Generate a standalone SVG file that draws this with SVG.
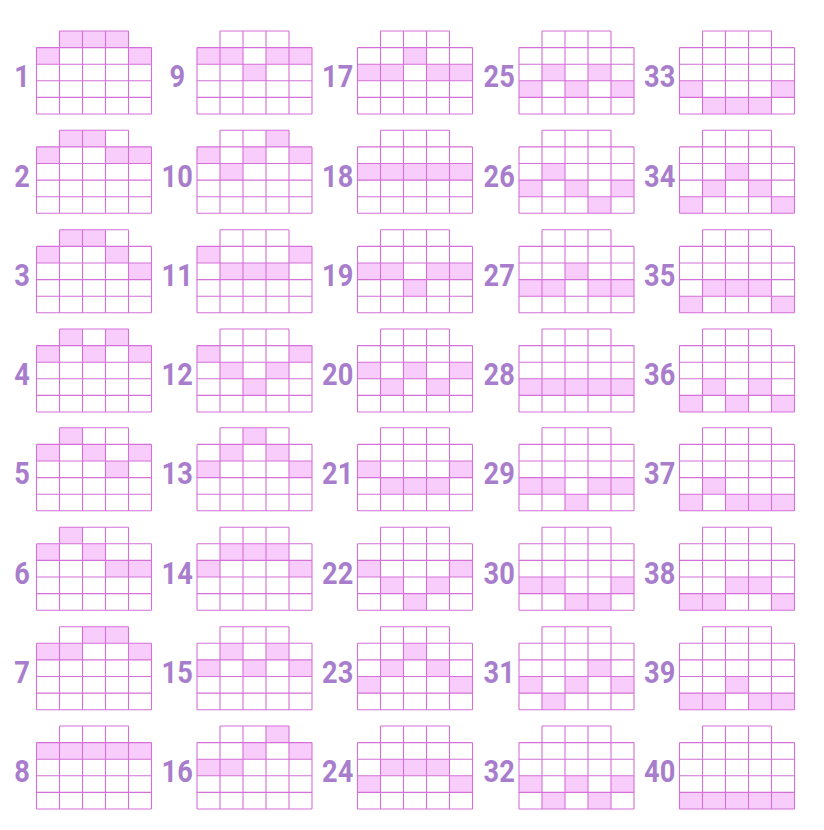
<svg xmlns="http://www.w3.org/2000/svg" xmlns:xlink="http://www.w3.org/1999/xlink" width="824" height="830" viewBox="0 0 824 830">
<style>
.f{fill:#f8cdfb}
.g{fill:none;stroke:#d470d8;stroke-width:1.1}
.n{font-family:Roboto,"Liberation Sans",sans-serif;font-weight:700;font-size:32px;fill:#a87dcc;text-anchor:middle}
</style>
<defs>
<path id="grid" class="g" d="M23,0H92M0,16.6H115M0,33.2H115M0,49.8H115M0,66.4H115M0,83H115M0,16.6V83M23,0V83M46,0V83M69,0V83M92,0V83M115,16.6V83"/>
<rect id="c" width="23" height="16.6"/>
</defs>
<rect width="824" height="830" fill="#ffffff"/>
<g id="connectors"></g>

<g id="p1" transform="translate(36.5,31)"><g class="f"><use xlink:href="#c" x="23" y="0"/><use xlink:href="#c" x="46" y="0"/><use xlink:href="#c" x="69" y="0"/><use xlink:href="#c" x="0" y="16.6"/><use xlink:href="#c" x="92" y="16.6"/></g><use xlink:href="#grid"/><text class="n" transform="translate(-14.5,56.3) scale(0.85,1)">1</text></g>
<g id="p2" transform="translate(36.5,130.3)"><g class="f"><use xlink:href="#c" x="23" y="0"/><use xlink:href="#c" x="46" y="0"/><use xlink:href="#c" x="0" y="16.6"/><use xlink:href="#c" x="69" y="16.6"/><use xlink:href="#c" x="92" y="16.6"/></g><use xlink:href="#grid"/><text class="n" transform="translate(-14.5,56.3) scale(0.85,1)">2</text></g>
<g id="p3" transform="translate(36.5,229.8)"><g class="f"><use xlink:href="#c" x="23" y="0"/><use xlink:href="#c" x="46" y="0"/><use xlink:href="#c" x="0" y="16.6"/><use xlink:href="#c" x="69" y="16.6"/><use xlink:href="#c" x="92" y="33.2"/></g><use xlink:href="#grid"/><text class="n" transform="translate(-14.5,56.3) scale(0.85,1)">3</text></g>
<g id="p4" transform="translate(36.5,329)"><g class="f"><use xlink:href="#c" x="23" y="0"/><use xlink:href="#c" x="69" y="0"/><use xlink:href="#c" x="0" y="16.6"/><use xlink:href="#c" x="46" y="16.6"/><use xlink:href="#c" x="92" y="16.6"/></g><use xlink:href="#grid"/><text class="n" transform="translate(-14.5,56.3) scale(0.85,1)">4</text></g>
<g id="p5" transform="translate(36.5,427.8)"><g class="f"><use xlink:href="#c" x="23" y="0"/><use xlink:href="#c" x="0" y="16.6"/><use xlink:href="#c" x="46" y="16.6"/><use xlink:href="#c" x="92" y="16.6"/><use xlink:href="#c" x="69" y="33.2"/></g><use xlink:href="#grid"/><text class="n" transform="translate(-14.5,56.3) scale(0.85,1)">5</text></g>
<g id="p6" transform="translate(36.5,527.2)"><g class="f"><use xlink:href="#c" x="23" y="0"/><use xlink:href="#c" x="0" y="16.6"/><use xlink:href="#c" x="46" y="16.6"/><use xlink:href="#c" x="69" y="33.2"/><use xlink:href="#c" x="92" y="33.2"/></g><use xlink:href="#grid"/><text class="n" transform="translate(-14.5,56.3) scale(0.85,1)">6</text></g>
<g id="p7" transform="translate(36.5,626.7)"><g class="f"><use xlink:href="#c" x="46" y="0"/><use xlink:href="#c" x="69" y="0"/><use xlink:href="#c" x="0" y="16.6"/><use xlink:href="#c" x="23" y="16.6"/><use xlink:href="#c" x="92" y="16.6"/></g><use xlink:href="#grid"/><text class="n" transform="translate(-14.5,56.3) scale(0.85,1)">7</text></g>
<g id="p8" transform="translate(36.5,726)"><g class="f"><use xlink:href="#c" x="0" y="16.6"/><use xlink:href="#c" x="23" y="16.6"/><use xlink:href="#c" x="46" y="16.6"/><use xlink:href="#c" x="69" y="16.6"/><use xlink:href="#c" x="92" y="16.6"/></g><use xlink:href="#grid"/><text class="n" transform="translate(-14.5,56.3) scale(0.85,1)">8</text></g>

<g id="p9" transform="translate(197,31)"><g class="f"><use xlink:href="#c" x="0" y="16.6"/><use xlink:href="#c" x="23" y="16.6"/><use xlink:href="#c" x="69" y="16.6"/><use xlink:href="#c" x="92" y="16.6"/><use xlink:href="#c" x="46" y="33.2"/></g><use xlink:href="#grid"/><text class="n" transform="translate(-19.8,56.3) scale(0.85,1)">9</text></g>
<g id="p10" transform="translate(197,130.3)"><g class="f"><use xlink:href="#c" x="69" y="0"/><use xlink:href="#c" x="0" y="16.6"/><use xlink:href="#c" x="46" y="16.6"/><use xlink:href="#c" x="92" y="16.6"/><use xlink:href="#c" x="23" y="33.2"/></g><use xlink:href="#grid"/><text class="n" transform="translate(-19.8,56.3) scale(0.85,1)">10</text></g>
<g id="p11" transform="translate(197,229.8)"><g class="f"><use xlink:href="#c" x="0" y="16.6"/><use xlink:href="#c" x="92" y="16.6"/><use xlink:href="#c" x="23" y="33.2"/><use xlink:href="#c" x="46" y="33.2"/><use xlink:href="#c" x="69" y="33.2"/></g><use xlink:href="#grid"/><text class="n" transform="translate(-19.8,56.3) scale(0.85,1)">11</text></g>
<g id="p12" transform="translate(197,329)"><g class="f"><use xlink:href="#c" x="0" y="16.6"/><use xlink:href="#c" x="92" y="16.6"/><use xlink:href="#c" x="23" y="33.2"/><use xlink:href="#c" x="69" y="33.2"/><use xlink:href="#c" x="46" y="49.8"/></g><use xlink:href="#grid"/><text class="n" transform="translate(-19.8,56.3) scale(0.85,1)">12</text></g>
<g id="p13" transform="translate(197,427.8)"><g class="f"><use xlink:href="#c" x="46" y="0"/><use xlink:href="#c" x="23" y="16.6"/><use xlink:href="#c" x="69" y="16.6"/><use xlink:href="#c" x="0" y="33.2"/><use xlink:href="#c" x="92" y="33.2"/></g><use xlink:href="#grid"/><text class="n" transform="translate(-19.8,56.3) scale(0.85,1)">13</text></g>
<g id="p14" transform="translate(197,527.2)"><g class="f"><use xlink:href="#c" x="23" y="16.6"/><use xlink:href="#c" x="46" y="16.6"/><use xlink:href="#c" x="69" y="16.6"/><use xlink:href="#c" x="0" y="33.2"/><use xlink:href="#c" x="92" y="33.2"/></g><use xlink:href="#grid"/><text class="n" transform="translate(-19.8,56.3) scale(0.85,1)">14</text></g>
<g id="p15" transform="translate(197,626.7)"><g class="f"><use xlink:href="#c" x="23" y="16.6"/><use xlink:href="#c" x="69" y="16.6"/><use xlink:href="#c" x="0" y="33.2"/><use xlink:href="#c" x="46" y="33.2"/><use xlink:href="#c" x="92" y="33.2"/></g><use xlink:href="#grid"/><text class="n" transform="translate(-19.8,56.3) scale(0.85,1)">15</text></g>
<g id="p16" transform="translate(197,726)"><g class="f"><use xlink:href="#c" x="69" y="0"/><use xlink:href="#c" x="46" y="16.6"/><use xlink:href="#c" x="92" y="16.6"/><use xlink:href="#c" x="0" y="33.2"/><use xlink:href="#c" x="23" y="33.2"/></g><use xlink:href="#grid"/><text class="n" transform="translate(-19.8,56.3) scale(0.85,1)">16</text></g>

<g id="p17" transform="translate(357.5,31)"><g class="f"><use xlink:href="#c" x="46" y="16.6"/><use xlink:href="#c" x="0" y="33.2"/><use xlink:href="#c" x="23" y="33.2"/><use xlink:href="#c" x="69" y="33.2"/><use xlink:href="#c" x="92" y="33.2"/></g><use xlink:href="#grid"/><text class="n" transform="translate(-19.8,56.3) scale(0.85,1)">17</text></g>
<g id="p18" transform="translate(357.5,130.3)"><g class="f"><use xlink:href="#c" x="0" y="33.2"/><use xlink:href="#c" x="23" y="33.2"/><use xlink:href="#c" x="46" y="33.2"/><use xlink:href="#c" x="69" y="33.2"/><use xlink:href="#c" x="92" y="33.2"/></g><use xlink:href="#grid"/><text class="n" transform="translate(-19.8,56.3) scale(0.85,1)">18</text></g>
<g id="p19" transform="translate(357.5,229.8)"><g class="f"><use xlink:href="#c" x="0" y="33.2"/><use xlink:href="#c" x="23" y="33.2"/><use xlink:href="#c" x="69" y="33.2"/><use xlink:href="#c" x="92" y="33.2"/><use xlink:href="#c" x="46" y="49.8"/></g><use xlink:href="#grid"/><text class="n" transform="translate(-19.8,56.3) scale(0.85,1)">19</text></g>
<g id="p20" transform="translate(357.5,329)"><g class="f"><use xlink:href="#c" x="0" y="33.2"/><use xlink:href="#c" x="46" y="33.2"/><use xlink:href="#c" x="92" y="33.2"/><use xlink:href="#c" x="23" y="49.8"/><use xlink:href="#c" x="69" y="49.8"/></g><use xlink:href="#grid"/><text class="n" transform="translate(-19.8,56.3) scale(0.85,1)">20</text></g>
<g id="p21" transform="translate(357.5,427.8)"><g class="f"><use xlink:href="#c" x="0" y="33.2"/><use xlink:href="#c" x="92" y="33.2"/><use xlink:href="#c" x="23" y="49.8"/><use xlink:href="#c" x="46" y="49.8"/><use xlink:href="#c" x="69" y="49.8"/></g><use xlink:href="#grid"/><text class="n" transform="translate(-19.8,56.3) scale(0.85,1)">21</text></g>
<g id="p22" transform="translate(357.5,527.2)"><g class="f"><use xlink:href="#c" x="0" y="33.2"/><use xlink:href="#c" x="92" y="33.2"/><use xlink:href="#c" x="23" y="49.8"/><use xlink:href="#c" x="69" y="49.8"/><use xlink:href="#c" x="46" y="66.4"/></g><use xlink:href="#grid"/><text class="n" transform="translate(-19.8,56.3) scale(0.85,1)">22</text></g>
<g id="p23" transform="translate(357.5,626.7)"><g class="f"><use xlink:href="#c" x="46" y="16.6"/><use xlink:href="#c" x="23" y="33.2"/><use xlink:href="#c" x="69" y="33.2"/><use xlink:href="#c" x="0" y="49.8"/><use xlink:href="#c" x="92" y="49.8"/></g><use xlink:href="#grid"/><text class="n" transform="translate(-19.8,56.3) scale(0.85,1)">23</text></g>
<g id="p24" transform="translate(357.5,726)"><g class="f"><use xlink:href="#c" x="23" y="33.2"/><use xlink:href="#c" x="46" y="33.2"/><use xlink:href="#c" x="69" y="33.2"/><use xlink:href="#c" x="0" y="49.8"/><use xlink:href="#c" x="92" y="49.8"/></g><use xlink:href="#grid"/><text class="n" transform="translate(-19.8,56.3) scale(0.85,1)">24</text></g>

<g id="p25" transform="translate(519,31)"><g class="f"><use xlink:href="#c" x="23" y="33.2"/><use xlink:href="#c" x="69" y="33.2"/><use xlink:href="#c" x="0" y="49.8"/><use xlink:href="#c" x="46" y="49.8"/><use xlink:href="#c" x="92" y="49.8"/></g><use xlink:href="#grid"/><text class="n" transform="translate(-19.8,56.3) scale(0.85,1)">25</text></g>
<g id="p26" transform="translate(519,130.3)"><g class="f"><use xlink:href="#c" x="23" y="33.2"/><use xlink:href="#c" x="0" y="49.8"/><use xlink:href="#c" x="46" y="49.8"/><use xlink:href="#c" x="92" y="49.8"/><use xlink:href="#c" x="69" y="66.4"/></g><use xlink:href="#grid"/><text class="n" transform="translate(-19.8,56.3) scale(0.85,1)">26</text></g>
<g id="p27" transform="translate(519,229.8)"><g class="f"><use xlink:href="#c" x="46" y="33.2"/><use xlink:href="#c" x="0" y="49.8"/><use xlink:href="#c" x="23" y="49.8"/><use xlink:href="#c" x="69" y="49.8"/><use xlink:href="#c" x="92" y="49.8"/></g><use xlink:href="#grid"/><text class="n" transform="translate(-19.8,56.3) scale(0.85,1)">27</text></g>
<g id="p28" transform="translate(519,329)"><g class="f"><use xlink:href="#c" x="0" y="49.8"/><use xlink:href="#c" x="23" y="49.8"/><use xlink:href="#c" x="46" y="49.8"/><use xlink:href="#c" x="69" y="49.8"/><use xlink:href="#c" x="92" y="49.8"/></g><use xlink:href="#grid"/><text class="n" transform="translate(-19.8,56.3) scale(0.85,1)">28</text></g>
<g id="p29" transform="translate(519,427.8)"><g class="f"><use xlink:href="#c" x="0" y="49.8"/><use xlink:href="#c" x="23" y="49.8"/><use xlink:href="#c" x="69" y="49.8"/><use xlink:href="#c" x="92" y="49.8"/><use xlink:href="#c" x="46" y="66.4"/></g><use xlink:href="#grid"/><text class="n" transform="translate(-19.8,56.3) scale(0.85,1)">29</text></g>
<g id="p30" transform="translate(519,527.2)"><g class="f"><use xlink:href="#c" x="0" y="49.8"/><use xlink:href="#c" x="23" y="49.8"/><use xlink:href="#c" x="92" y="49.8"/><use xlink:href="#c" x="46" y="66.4"/><use xlink:href="#c" x="69" y="66.4"/></g><use xlink:href="#grid"/><text class="n" transform="translate(-19.8,56.3) scale(0.85,1)">30</text></g>
<g id="p31" transform="translate(519,626.7)"><g class="f"><use xlink:href="#c" x="69" y="33.2"/><use xlink:href="#c" x="0" y="49.8"/><use xlink:href="#c" x="46" y="49.8"/><use xlink:href="#c" x="92" y="49.8"/><use xlink:href="#c" x="23" y="66.4"/></g><use xlink:href="#grid"/><text class="n" transform="translate(-19.8,56.3) scale(0.85,1)">31</text></g>
<g id="p32" transform="translate(519,726)"><g class="f"><use xlink:href="#c" x="0" y="49.8"/><use xlink:href="#c" x="46" y="49.8"/><use xlink:href="#c" x="92" y="49.8"/><use xlink:href="#c" x="23" y="66.4"/><use xlink:href="#c" x="69" y="66.4"/></g><use xlink:href="#grid"/><text class="n" transform="translate(-19.8,56.3) scale(0.85,1)">32</text></g>

<g id="p33" transform="translate(679.5,31)"><g class="f"><use xlink:href="#c" x="0" y="49.8"/><use xlink:href="#c" x="92" y="49.8"/><use xlink:href="#c" x="23" y="66.4"/><use xlink:href="#c" x="46" y="66.4"/><use xlink:href="#c" x="69" y="66.4"/></g><use xlink:href="#grid"/><text class="n" transform="translate(-19.8,56.3) scale(0.85,1)">33</text></g>
<g id="p34" transform="translate(679.5,130.3)"><g class="f"><use xlink:href="#c" x="46" y="33.2"/><use xlink:href="#c" x="23" y="49.8"/><use xlink:href="#c" x="69" y="49.8"/><use xlink:href="#c" x="0" y="66.4"/><use xlink:href="#c" x="92" y="66.4"/></g><use xlink:href="#grid"/><text class="n" transform="translate(-19.8,56.3) scale(0.85,1)">34</text></g>
<g id="p35" transform="translate(679.5,229.8)"><g class="f"><use xlink:href="#c" x="23" y="49.8"/><use xlink:href="#c" x="46" y="49.8"/><use xlink:href="#c" x="69" y="49.8"/><use xlink:href="#c" x="0" y="66.4"/><use xlink:href="#c" x="92" y="66.4"/></g><use xlink:href="#grid"/><text class="n" transform="translate(-19.8,56.3) scale(0.85,1)">35</text></g>
<g id="p36" transform="translate(679.5,329)"><g class="f"><use xlink:href="#c" x="23" y="49.8"/><use xlink:href="#c" x="69" y="49.8"/><use xlink:href="#c" x="0" y="66.4"/><use xlink:href="#c" x="46" y="66.4"/><use xlink:href="#c" x="92" y="66.4"/></g><use xlink:href="#grid"/><text class="n" transform="translate(-19.8,56.3) scale(0.85,1)">36</text></g>
<g id="p37" transform="translate(679.5,427.8)"><g class="f"><use xlink:href="#c" x="23" y="49.8"/><use xlink:href="#c" x="0" y="66.4"/><use xlink:href="#c" x="46" y="66.4"/><use xlink:href="#c" x="69" y="66.4"/><use xlink:href="#c" x="92" y="66.4"/></g><use xlink:href="#grid"/><text class="n" transform="translate(-19.8,56.3) scale(0.85,1)">37</text></g>
<g id="p38" transform="translate(679.5,527.2)"><g class="f"><use xlink:href="#c" x="46" y="49.8"/><use xlink:href="#c" x="69" y="49.8"/><use xlink:href="#c" x="0" y="66.4"/><use xlink:href="#c" x="23" y="66.4"/><use xlink:href="#c" x="92" y="66.4"/></g><use xlink:href="#grid"/><text class="n" transform="translate(-19.8,56.3) scale(0.85,1)">38</text></g>
<g id="p39" transform="translate(679.5,626.7)"><g class="f"><use xlink:href="#c" x="46" y="49.8"/><use xlink:href="#c" x="0" y="66.4"/><use xlink:href="#c" x="23" y="66.4"/><use xlink:href="#c" x="69" y="66.4"/><use xlink:href="#c" x="92" y="66.4"/></g><use xlink:href="#grid"/><text class="n" transform="translate(-19.8,56.3) scale(0.85,1)">39</text></g>
<g id="p40" transform="translate(679.5,726)"><g class="f"><use xlink:href="#c" x="0" y="66.4"/><use xlink:href="#c" x="23" y="66.4"/><use xlink:href="#c" x="46" y="66.4"/><use xlink:href="#c" x="69" y="66.4"/><use xlink:href="#c" x="92" y="66.4"/></g><use xlink:href="#grid"/><text class="n" transform="translate(-19.8,56.3) scale(0.85,1)">40</text></g>
</svg>
